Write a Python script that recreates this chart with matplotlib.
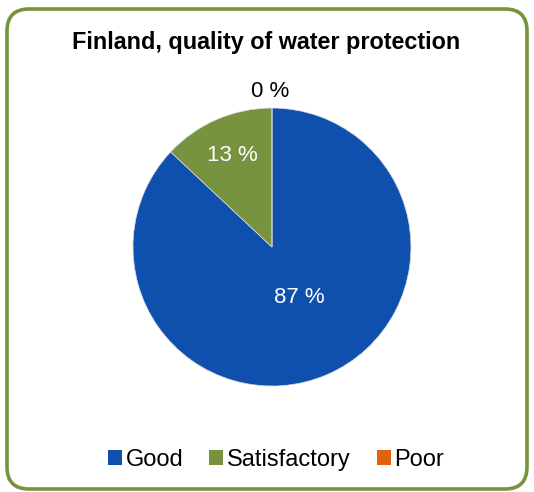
import matplotlib
matplotlib.use("Agg")
import matplotlib.pyplot as plt
from matplotlib.patches import FancyBboxPatch, Patch

plt.rcParams['font.family'] = ['Liberation Sans', 'DejaVu Sans']

# water protection quality shares, percent
categories = ["Good", "Satisfactory", "Poor"]
shares = [87, 13, 0]
colors = ["#0F50AE", "#78933F", "#E0620E"]
text_colors = ["white", "white", "black"]

fig = plt.figure(figsize=(5.34, 4.92), dpi=100)

# rounded green frame around the whole chart, kept behind the pie
frame = FancyBboxPatch((0.07, 0.03), 5.20, 4.80,
                       boxstyle="round,pad=0,rounding_size=0.22",
                       transform=fig.dpi_scale_trans,
                       facecolor="white", edgecolor="#77933C", linewidth=2.6,
                       zorder=-1)
fig.patches.append(frame)

fig.text(0.498, 1 - 43 / 492, "Finland, quality of water protection",
         ha="center", va="center", fontsize=16.8, fontweight="bold")

ax = fig.add_axes([0.249, 0.2154, 0.5206, 0.565])
ax.set_zorder(1)
wedges, _, autotexts = ax.pie(shares, colors=colors, startangle=90,
                              counterclock=False, autopct="%d %%",
                              pctdistance=0.72,
                              wedgeprops=dict(linewidth=0.5, edgecolor="#dddddd"),
                              textprops=dict(fontsize=16))
ax.set_xlim(-1, 1)
ax.set_ylim(-1, 1)
ax.set_aspect("equal")

# label placement: the big slice label sits nearer the centre,
# the empty slice label above the pie
autotexts[0].set_position((0.2, -0.36))
autotexts[2].set_position((-0.01, 1.12))
for t, c in zip(autotexts, text_colors):
    t.set_color(c)

handles = [Patch(facecolor=c, edgecolor="none") for c in colors]
fig.legend(handles, categories, loc="center",
           bbox_to_anchor=(276 / 534, 1 - 460 / 492), ncol=3, frameon=False,
           fontsize=17, handlelength=0.6, handleheight=0.6,
           handletextpad=0.15, columnspacing=1.1)

fig.savefig("out.png", dpi=100)
